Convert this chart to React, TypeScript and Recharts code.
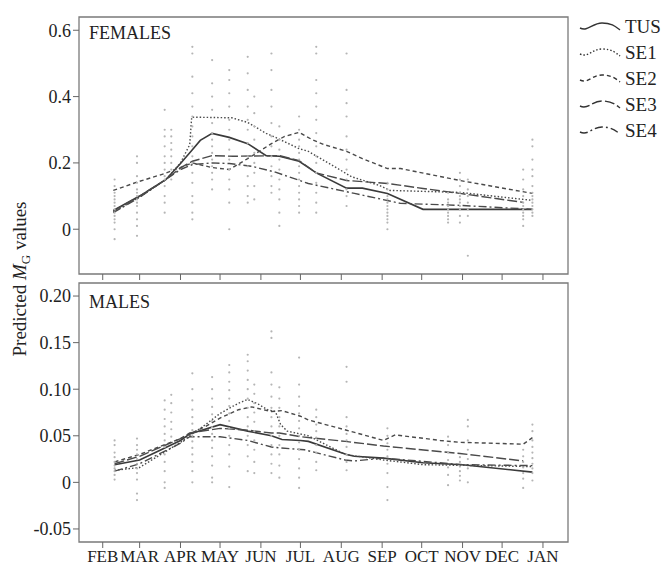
import {
  ComposedChart,
  Legend,
  Line,
  ReferenceArea,
  Scatter,
  XAxis,
  YAxis,
} from "recharts";

const months = ["FEB", "MAR", "APR", "MAY", "JUN", "JUL", "AUG", "SEP", "OCT", "NOV", "DEC", "JAN"];
// day of year of the first of each month
const monthTicks = [32, 60, 91, 121, 152, 182, 213, 244, 274, 305, 335, 366];

const seriesNames = ["TUS", "SE1", "SE2", "SE3", "SE4"];
const seriesDash = ["", "1.5 2", "4 3", "10 3", "8 3 2 3"];

// [day of year, predicted value]
const femalesTUS = [[40, 0.057], [60, 0.1], [80, 0.15], [91, 0.198], [100, 0.24], [106, 0.268], [115, 0.289], [128, 0.277], [142, 0.258], [156, 0.222], [166, 0.22], [181, 0.205], [194, 0.17], [217, 0.124], [229, 0.124], [248, 0.108], [275, 0.06], [358, 0.06]];
const femalesSE1 = [[40, 0.052], [60, 0.097], [80, 0.15], [91, 0.2], [98, 0.255], [99.5, 0.338], [130, 0.336], [142, 0.322], [156, 0.289], [163, 0.277], [181, 0.243], [188, 0.235], [200, 0.207], [221, 0.158], [242, 0.132], [250, 0.117], [303, 0.111], [358, 0.087]];
const femalesSE2 = [[40, 0.117], [58, 0.142], [79, 0.168], [100, 0.2], [115, 0.186], [128, 0.18], [142, 0.213], [160, 0.258], [170, 0.28], [181, 0.292], [191, 0.27], [200, 0.255], [217, 0.235], [229, 0.213], [248, 0.183], [258, 0.183], [303, 0.147], [358, 0.108]];
const femalesSE3 = [[40, 0.055], [60, 0.1], [80, 0.15], [91, 0.185], [100, 0.205], [115, 0.222], [131, 0.22], [166, 0.222], [181, 0.207], [194, 0.17], [217, 0.147], [248, 0.138], [275, 0.123], [303, 0.108], [351, 0.081]];
const femalesSE4 = [[40, 0.05], [60, 0.096], [80, 0.15], [91, 0.18], [100, 0.195], [115, 0.2], [128, 0.198], [145, 0.19], [163, 0.172], [188, 0.138], [223, 0.108], [258, 0.078], [303, 0.072], [358, 0.06]];

const malesTUS = [[41, 0.019], [60, 0.024], [91, 0.045], [98, 0.052], [121, 0.062], [142, 0.055], [160, 0.05], [168, 0.046], [182, 0.045], [188, 0.044], [217, 0.03], [223, 0.028], [245, 0.026], [275, 0.021], [305, 0.019], [358, 0.011]];
const malesSE1 = [[41, 0.013], [60, 0.016], [91, 0.043], [98, 0.05], [110, 0.062], [121, 0.074], [135, 0.085], [142, 0.089], [150, 0.084], [157, 0.078], [163, 0.076], [167, 0.062], [172, 0.055], [188, 0.05], [216, 0.03], [245, 0.024], [275, 0.019], [358, 0.017]];
const malesSE2 = [[41, 0.022], [60, 0.03], [91, 0.047], [98, 0.052], [110, 0.06], [121, 0.069], [135, 0.078], [145, 0.081], [160, 0.076], [168, 0.077], [182, 0.071], [188, 0.067], [217, 0.056], [245, 0.045], [254, 0.051], [288, 0.045], [303, 0.043], [351, 0.041], [358, 0.048]];
const malesSE3 = [[41, 0.02], [60, 0.028], [91, 0.047], [98, 0.053], [121, 0.058], [142, 0.056], [160, 0.053], [166, 0.053], [182, 0.049], [216, 0.044], [245, 0.039], [303, 0.031], [351, 0.023]];
const malesSE4 = [[41, 0.012], [60, 0.02], [91, 0.042], [98, 0.049], [121, 0.049], [142, 0.045], [160, 0.038], [166, 0.037], [185, 0.035], [216, 0.024], [223, 0.023], [245, 0.026], [305, 0.019], [358, 0.018]];

// observed values, grouped by sampling day
const femaleObsDays = [41, 58, 79, 84, 100, 115, 128, 142, 147, 160, 166, 181, 194, 217, 248, 294, 303, 309, 351, 358];
const femaleObs = [
  [0.15, 0.13, 0.11, 0.1, 0.09, 0.08, 0.07, 0.06, 0.05, 0.04, 0.03, 0.02, 0.0, -0.03],
  [0.22, 0.2, 0.16, 0.14, 0.12, 0.11, 0.1, 0.09, 0.08, 0.07, 0.05, 0.03, 0.01, -0.02],
  [0.36, 0.3, 0.28, 0.25, 0.22, 0.2, 0.18, 0.16, 0.15, 0.13, 0.1, 0.08, 0.05],
  [0.3, 0.28, 0.26, 0.24, 0.22, 0.2, 0.18, 0.15],
  [0.55, 0.53, 0.46, 0.41, 0.37, 0.34, 0.31, 0.28, 0.25, 0.22, 0.2, 0.17, 0.14, 0.1, 0.08, 0.05, 0.03],
  [0.51, 0.44, 0.4, 0.36, 0.32, 0.29, 0.27, 0.25, 0.23, 0.21, 0.19, 0.17, 0.15, 0.12],
  [0.48, 0.45, 0.41, 0.37, 0.33, 0.3, 0.27, 0.24, 0.21, 0.18, 0.15, 0.12, 0.08, 0.0],
  [0.52, 0.47, 0.42, 0.37, 0.33, 0.3, 0.26, 0.22, 0.19, 0.16, 0.13, 0.1, 0.08],
  [0.4, 0.35, 0.31, 0.27, 0.23, 0.2, 0.17, 0.13, 0.09],
  [0.53, 0.48, 0.42, 0.37, 0.32, 0.28, 0.25, 0.22, 0.19, 0.16, 0.13, 0.11],
  [0.31, 0.27, 0.24, 0.21, 0.18, 0.15, 0.12, 0.09, 0.05, 0.01],
  [0.34, 0.3, 0.27, 0.25, 0.23, 0.21, 0.19, 0.17, 0.15, 0.13, 0.11, 0.09, 0.07, 0.05],
  [0.55, 0.53, 0.45, 0.41, 0.37, 0.33, 0.29, 0.25, 0.22, 0.2, 0.17, 0.14, 0.11, 0.08, 0.05],
  [0.53, 0.42, 0.38, 0.34, 0.28, 0.24, 0.21, 0.18, 0.15, 0.12, 0.1, 0.07],
  [0.14, 0.12, 0.1, 0.09, 0.08, 0.07, 0.06, 0.05, 0.04, 0.03, 0.02, 0.0],
  [0.11, 0.09, 0.08, 0.07, 0.06, 0.05, 0.04, 0.03, 0.02],
  [0.17, 0.15, 0.13, 0.11, 0.1, 0.09, 0.08, 0.07, 0.06, 0.04, 0.02],
  [0.15, 0.12, 0.1, 0.08, 0.06, 0.04, -0.08],
  [0.18, 0.15, 0.12, 0.1, 0.08, 0.07, 0.06, 0.05, 0.04, 0.03, 0.01],
  [0.27, 0.25, 0.21, 0.18, 0.16, 0.13, 0.11, 0.1, 0.09, 0.08, 0.07, 0.06, 0.05, 0.04],
];

const maleObsDays = [41, 58, 79, 84, 100, 115, 128, 142, 147, 160, 166, 181, 194, 217, 248, 294, 303, 309, 351, 358];
const maleObs = [
  [0.045, 0.04, 0.032, 0.027, 0.022, 0.018, 0.015, 0.012, 0.008, 0.003],
  [0.047, 0.04, 0.035, 0.03, 0.025, 0.02, 0.015, 0.01, 0.003, -0.012, -0.019],
  [0.088, 0.078, 0.068, 0.06, 0.052, 0.045, 0.038, 0.03, 0.022, 0.012, 0.0, -0.006],
  [0.094, 0.085, 0.075, 0.065, 0.057, 0.049],
  [0.117, 0.1, 0.088, 0.078, 0.07, 0.063, 0.056, 0.05, 0.044, 0.037, 0.03, 0.022, 0.012, 0.0],
  [0.113, 0.1, 0.09, 0.081, 0.073, 0.066, 0.059, 0.052, 0.045, 0.037, 0.028, 0.018, 0.005, 0.0],
  [0.126, 0.118, 0.108, 0.099, 0.09, 0.082, 0.074, 0.066, 0.058, 0.05, 0.04, 0.03, 0.017, -0.005],
  [0.137, 0.13, 0.12, 0.11, 0.1, 0.09, 0.08, 0.07, 0.06, 0.05, 0.04, 0.028, 0.012],
  [0.105, 0.095, 0.085, 0.075, 0.065, 0.055, 0.045, 0.035, 0.022, 0.01],
  [0.162, 0.155, 0.118, 0.105, 0.092, 0.08, 0.07, 0.06, 0.05, 0.04, 0.03, 0.02, 0.01],
  [0.102, 0.09, 0.08, 0.07, 0.06, 0.05, 0.04, 0.03, 0.018, 0.005],
  [0.134, 0.105, 0.092, 0.082, 0.074, 0.066, 0.058, 0.05, 0.043, 0.035, 0.025, 0.015, 0.005, -0.006],
  [0.078, 0.07, 0.062, 0.055, 0.048, 0.04, 0.032, 0.022, 0.013],
  [0.124, 0.108, 0.07, 0.06, 0.052, 0.045, 0.038, 0.03, 0.022, 0.013],
  [0.058, 0.05, 0.042, 0.035, 0.028, 0.02, 0.01, -0.005, -0.019],
  [0.049, 0.04, 0.032, 0.024, 0.016, 0.008, -0.003],
  [0.027, 0.022, 0.017, 0.012, 0.007, 0.002],
  [0.067, 0.06, 0.045, 0.035, 0.025, 0.015, 0.0],
  [0.035, 0.028, 0.022, 0.016, 0.01, 0.004, -0.006],
  [0.062, 0.055, 0.045, 0.038, 0.032, 0.026, 0.02, 0.015, 0.01, 0.002],
];

const femaleTicks = [0, 0.2, 0.4, 0.6];
const maleTicks = [-0.05, 0, 0.05, 0.1, 0.15, 0.2];

const FONT = '"Liberation Serif", "Times New Roman", serif';
const X_DOMAIN: [number, number] = [14, 385];

const toPts = (arr: number[][]) => arr.map(([d, v]) => ({ d, v }));
const toObs = (days: number[], vals: number[][]) =>
  days.flatMap((d, i) => vals[i].map((v) => ({ d, v })));

const Dot = (props: any) => (
  <circle cx={props.cx} cy={props.cy} r={1.1} fill="#b5b5b5" />
);

const renderLegend = () => (
  <svg width={86} height={130} style={{ display: "block", fontFamily: FONT }}>
    {seriesNames.map((name, i) => {
      const y = 14 + i * 26;
      return (
        <g key={name}>
          <path
            d={`M2 ${y + 2} C 10 ${y + 6}, 14 ${y - 3}, 24 ${y - 3} S 38 ${y + 1}, 42 ${y + 4}`}
            fill="none"
            stroke="#333"
            strokeWidth={1.4}
            strokeDasharray={seriesDash[i] || undefined}
          />
          <text x={47} y={y + 7} fontSize={19} style={{ fontFamily: FONT }} fill="#222">
            {name}
          </text>
        </g>
      );
    })}
  </svg>
);

interface PanelProps {
  series: number[][][];
  obs: { d: number; v: number }[];
  yDomain: [number, number];
  yTicks: number[];
  yFormat: (v: number) => string;
  height: number;
  marginTop: number;
  xHeight: number;
  showMonths: boolean;
  legend?: boolean;
}

const Panel = ({ series, obs, yDomain, yTicks, yFormat, height, marginTop, xHeight, showMonths, legend }: PanelProps) => (
  <ComposedChart
    width={664}
    height={height}
    margin={{ top: marginTop, right: 96, bottom: 0, left: 29 }}
    style={{ fontFamily: FONT }}
  >
    <XAxis
      type="number"
      dataKey="d"
      domain={X_DOMAIN}
      ticks={monthTicks}
      interval={0}
      allowDataOverflow
      height={xHeight}
      axisLine={false}
      tickLine={{ stroke: "#666" }}
      tickSize={6}
      tickFormatter={(v) => (showMonths ? months[monthTicks.indexOf(v)] : "")}
      tick={{ fontSize: 17, fill: "#222", style: { fontFamily: FONT } }}
    />
    <YAxis
      type="number"
      dataKey="v"
      domain={yDomain}
      ticks={yTicks}
      allowDataOverflow
      width={50}
      axisLine={false}
      tickLine={{ stroke: "#666" }}
      tickSize={6}
      tickFormatter={yFormat}
      tick={{ fontSize: 18, fill: "#222", style: { fontFamily: FONT } }}
    />
    <ReferenceArea
      x1={X_DOMAIN[0]}
      x2={X_DOMAIN[1]}
      y1={yDomain[0]}
      y2={yDomain[1]}
      fill="none"
      stroke="#7a7a7a"
      strokeWidth={1.3}
    />
    <Scatter data={obs} dataKey="v" shape={Dot} isAnimationActive={false} />
    {series.map((s, i) => (
      <Line
        key={seriesNames[i]}
        data={toPts(s)}
        dataKey="v"
        name={seriesNames[i]}
        type="linear"
        stroke={i === 0 ? "#3a3a3a" : "#4a4a4a"}
        strokeWidth={i === 0 ? 1.6 : 1.4}
        strokeDasharray={seriesDash[i] || undefined}
        dot={false}
        activeDot={false}
        isAnimationActive={false}
      />
    ))}
    {legend && (
      <Legend
        layout="horizontal"
        verticalAlign="middle"
        content={renderLegend}
        wrapperStyle={{ position: "absolute", left: 578, top: 12, width: 86 }}
      />
    )}
  </ComposedChart>
);

export default function App() {
  return (
    <div
      style={{
        position: "absolute",
        left: 0,
        top: 0,
        width: 664,
        height: 565,
        background: "#fff",
        fontFamily: FONT,
        color: "#222",
      }}
    >
      <div style={{ position: "absolute", left: 0, top: 0 }}>
        <Panel
          series={[femalesTUS, femalesSE1, femalesSE2, femalesSE3, femalesSE4]}
          obs={toObs(femaleObsDays, femaleObs)}
          yDomain={[-0.135, 0.64]}
          yTicks={femaleTicks}
          yFormat={(v) => (v === 0 ? "0" : v.toFixed(1))}
          height={281}
          marginTop={17}
          xHeight={7}
          showMonths={false}
          legend
        />
      </div>
      <div style={{ position: "absolute", left: 0, top: 270 }}>
        <Panel
          series={[malesTUS, malesSE1, malesSE2, malesSE3, malesSE4]}
          obs={toObs(maleObsDays, maleObs)}
          yDomain={[-0.064, 0.214]}
          yTicks={maleTicks}
          yFormat={(v) => (v === 0 ? "0" : v.toFixed(2))}
          height={295}
          marginTop={13}
          xHeight={23}
          showMonths
        />
      </div>
      <div style={{ position: "absolute", left: 89, top: 24, fontSize: 18, lineHeight: 1 }}>
        FEMALES
      </div>
      <div style={{ position: "absolute", left: 89, top: 293, fontSize: 18, lineHeight: 1 }}>
        MALES
      </div>
      <svg
        width={40}
        height={565}
        style={{ position: "absolute", left: 0, top: 0, overflow: "visible", fontFamily: FONT }}
      >
        <text
          x={26}
          y={279}
          transform="rotate(-90 26 279)"
          textAnchor="middle"
          fontSize={19}
          fill="#222"
        >
          Predicted <tspan fontStyle="italic">M</tspan>
          <tspan fontSize={13} dy={4}>G</tspan>
          <tspan dy={-4}> values</tspan>
        </text>
      </svg>
    </div>
  );
}
